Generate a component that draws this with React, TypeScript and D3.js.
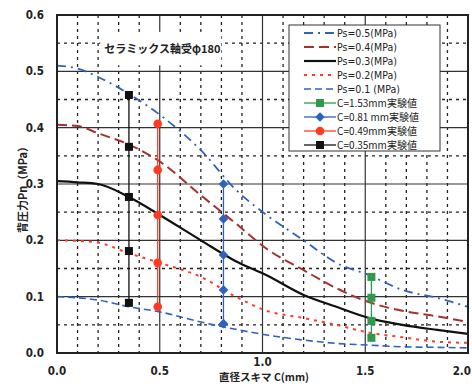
import React, { useRef, useEffect } from 'react';
import * as d3 from 'd3';

// curves: clearance C (mm) vs back pressure Pn (MPa)
const curveC = [0, 0.1, 0.2, 0.35, 0.5, 0.7, 0.87, 1.02, 1.2, 1.36, 1.52, 1.68, 1.85, 2.0];
const ps05 = [0.51, 0.505, 0.49, 0.46, 0.423, 0.36, 0.29, 0.245, 0.2, 0.16, 0.138, 0.112, 0.098, 0.082];
const ps04 = [0.405, 0.403, 0.39, 0.37, 0.34, 0.28, 0.23, 0.185, 0.147, 0.115, 0.09, 0.075, 0.065, 0.055];
const ps03 = [0.305, 0.303, 0.3, 0.277, 0.245, 0.2, 0.163, 0.138, 0.103, 0.082, 0.062, 0.05, 0.041, 0.034];
const ps02 = [0.2, 0.199, 0.196, 0.177, 0.16, 0.135, 0.1, 0.075, 0.062, 0.05, 0.036, 0.028, 0.02, 0.018];
const ps01 = [0.1, 0.098, 0.094, 0.082, 0.073, 0.055, 0.042, 0.032, 0.023, 0.017, 0.014, 0.011, 0.01, 0.009];

// experimental values
const exp153 = [0.135, 0.098, 0.057, 0.027];
const exp081 = [0.3, 0.238, 0.174, 0.112, 0.052];
const exp049 = [0.407, 0.325, 0.245, 0.16, 0.082];
const exp035 = [0.458, 0.366, 0.277, 0.181, 0.089];

const xTicks = ['0.0', '0.5', '1.0', '1.5', '2.0'];
const yTicks = ['0.0', '0.1', '0.2', '0.3', '0.4', '0.5', '0.6'];

const BLUE = '#2f62c0';
const DRED = '#a8302a';
const RED = '#ff3a22';
const GREEN = '#2e9a4e';

const curves = [
  { name: 'Ps=0.5(MPa)', values: ps05, color: BLUE, dash: '9,5,2,5', width: 1.8 },
  { name: 'Ps=0.4(MPa)', values: ps04, color: DRED, dash: '10,5', width: 2 },
  { name: 'Ps=0.3(MPa)', values: ps03, color: '#111', dash: null, width: 2.2 },
  { name: 'Ps=0.2(MPa)', values: ps02, color: RED, dash: '3,5', width: 2 },
  { name: 'Ps=0.1 (MPa)', values: ps01, color: BLUE, dash: '7,4', width: 1.6 },
];

const experiments = [
  { name: 'C=1.53mm実験値', c: 1.53, values: exp153, color: GREEN, shape: 'square' },
  { name: 'C=0.81 mm実験値', c: 0.81, values: exp081, color: BLUE, shape: 'diamond' },
  { name: 'C=0.49mm実験値', c: 0.49, values: exp049, color: RED, shape: 'circle' },
  { name: 'C=0.35mm実験値', c: 0.35, values: exp035, color: '#111', shape: 'square' },
];

const W = 472;
const H = 384;
const margin = { top: 15, right: 4, bottom: 31, left: 57 };
const FONT = '"DejaVu Sans Condensed", "DejaVu Sans", sans-serif';
const JFONT = '"Noto Sans CJK JP", "DejaVu Sans Condensed", sans-serif';

const App: React.FC = () => {
  const svgRef = useRef<SVGSVGElement>(null);

  useEffect(() => {
    const svg = d3.select(svgRef.current);
    svg.selectAll('*').remove();

    const innerW = W - margin.left - margin.right;
    const innerH = H - margin.top - margin.bottom;
    const x = d3.scaleLinear().domain([0, 2]).range([0, innerW]);
    const y = d3.scaleLinear().domain([0, 0.6]).range([innerH, 0]);

    svg.append('rect').attr('width', W).attr('height', H).attr('fill', '#fff');
    const g = svg.append('g').attr('transform', `translate(${margin.left},${margin.top})`);

    // minor grid (dashed)
    const xMinor = d3.range(1, 20).filter(i => i % 5 !== 0).map(i => i / 10);
    const yMinor = d3.range(1, 12).filter(i => i % 2 !== 0).map(i => i * 0.05);
    g.selectAll('.gx').data(xMinor).enter().append('line')
      .attr('x1', d => x(d)).attr('x2', d => x(d)).attr('y1', 0).attr('y2', innerH)
      .attr('stroke', '#222').attr('stroke-width', 1.3).attr('stroke-dasharray', '3,4');
    g.selectAll('.gy').data(yMinor).enter().append('line')
      .attr('x1', 0).attr('x2', innerW).attr('y1', d => y(d)).attr('y2', d => y(d))
      .attr('stroke', '#222').attr('stroke-width', 1.3).attr('stroke-dasharray', '3,4');
    // major grid (solid)
    g.selectAll('.gX').data([0.5, 1, 1.5]).enter().append('line')
      .attr('x1', d => x(d)).attr('x2', d => x(d)).attr('y1', 0).attr('y2', innerH)
      .attr('stroke', '#333').attr('stroke-width', 1.2);
    g.selectAll('.gY').data([0.1, 0.2, 0.3, 0.4, 0.5]).enter().append('line')
      .attr('x1', 0).attr('x2', innerW).attr('y1', d => y(d)).attr('y2', d => y(d))
      .attr('stroke', '#333').attr('stroke-width', 1.2);

    // annotation label with white backing
    g.append('rect').attr('x', x(0.21)).attr('y', y(0.57)).attr('width', x(0.8) - x(0.21))
      .attr('height', y(0.5) - y(0.57) - 6).attr('fill', '#fff');
    g.append('text').attr('x', x(0.23)).attr('y', y(0.532))
      .attr('font-family', JFONT).attr('font-size', 11).attr('font-weight', 'bold')
      .attr('fill', '#222').text('セラミックス軸受φ180');

    // curves
    const line = d3.line<number>()
      .x((_, i) => x(curveC[i]))
      .y(d => y(d))
      .curve(d3.curveMonotoneX);
    curves.forEach(c => {
      g.append('path').attr('d', line(c.values)).attr('fill', 'none')
        .attr('stroke', c.color).attr('stroke-width', c.width)
        .attr('stroke-dasharray', c.dash);
    });

    const drawMarker = (sel: d3.Selection<SVGGElement, unknown, null, undefined>, shape: string, color: string, cx: number, cy: number) => {
      if (shape === 'square') {
        sel.append('rect').attr('x', cx - 4).attr('y', cy - 4).attr('width', 8).attr('height', 8).attr('fill', color);
      } else if (shape === 'circle') {
        sel.append('circle').attr('cx', cx).attr('cy', cy).attr('r', 4.3).attr('fill', color);
      } else {
        sel.append('path').attr('d', d3.symbol(d3.symbolDiamond2, 60)()).attr('transform', `translate(${cx},${cy})`).attr('fill', color);
      }
    };

    // experimental values
    experiments.forEach(e => {
      const eg = g.append('g');
      const ext = d3.extent(e.values) as [number, number];
      eg.append('line').attr('x1', x(e.c)).attr('x2', x(e.c)).attr('y1', y(ext[0])).attr('y2', y(ext[1]))
        .attr('stroke', e.color).attr('stroke-width', 1.3);
      e.values.forEach(v => drawMarker(eg as any, e.shape, e.color, x(e.c), y(v)));
    });

    // frame
    g.append('rect').attr('width', innerW).attr('height', innerH).attr('fill', 'none')
      .attr('stroke', '#222').attr('stroke-width', 2);

    // tick labels
    xTicks.forEach(t => {
      const last = t === '2.0';
      g.append('text').attr('x', last ? innerW + margin.right - 1 : x(+t))
        .attr('y', innerH + (t === '1.0' ? 13 : 22))
        .attr('text-anchor', last ? 'end' : 'middle').attr('font-family', FONT).attr('font-weight', 'bold')
        .attr('font-size', 11.5).attr('fill', '#222').text(t);
    });
    yTicks.forEach(t => {
      g.append('text').attr('x', -13).attr('y', y(+t) + 4)
        .attr('text-anchor', 'end').attr('font-family', FONT).attr('font-weight', 'bold')
        .attr('font-size', 11.5).attr('fill', '#222').text(t);
    });

    // axis titles
    svg.append('text').attr('x', 264).attr('y', 381).attr('text-anchor', 'middle')
      .attr('font-family', JFONT).attr('font-weight', 'bold').attr('font-size', 10.5)
      .attr('fill', '#222').text('直径スキマ C(mm)');
    svg.append('text').attr('transform', 'translate(27,187) rotate(-90)').attr('text-anchor', 'middle')
      .attr('font-family', JFONT).attr('font-weight', 'bold').attr('font-size', 11)
      .attr('fill', '#222').text('背圧力Pn（MPa）');

    // legend
    const lx = 289, ly = 25, lw = 151, lh = 126, step = 14;
    const legend = svg.append('g');
    legend.append('rect').attr('x', lx).attr('y', ly).attr('width', lw).attr('height', lh)
      .attr('fill', '#fff').attr('stroke', '#333').attr('stroke-width', 1);
    curves.forEach((c, i) => {
      const yy = ly + 8 + i * step;
      legend.append('line').attr('x1', lx + 15).attr('x2', lx + 47).attr('y1', yy).attr('y2', yy)
        .attr('stroke', c.color).attr('stroke-width', c.width).attr('stroke-dasharray', c.dash);
      legend.append('text').attr('x', lx + 48).attr('y', yy + 4).attr('font-family', FONT)
        .attr('font-size', 10.5).attr('fill', '#222').text(c.name);
    });
    experiments.forEach((e, i) => {
      const yy = ly + 8 + (i + 5) * step;
      legend.append('line').attr('x1', lx + 15).attr('x2', lx + 47).attr('y1', yy).attr('y2', yy)
        .attr('stroke', e.color).attr('stroke-width', 1.3);
      drawMarker(legend as any, e.shape, e.color, lx + 31, yy);
      legend.append('text').attr('x', lx + 48).attr('y', yy + 3.5).attr('font-family', JFONT)
        .attr('font-size', 10).attr('fill', '#222').text(e.name);
    });
  }, []);

  return (
    <div style={{ position: 'absolute', left: 0, top: 0 }}>
      <svg ref={svgRef} width={W} height={H} style={{ display: 'block' }} />
    </div>
  );
};

export default App;
